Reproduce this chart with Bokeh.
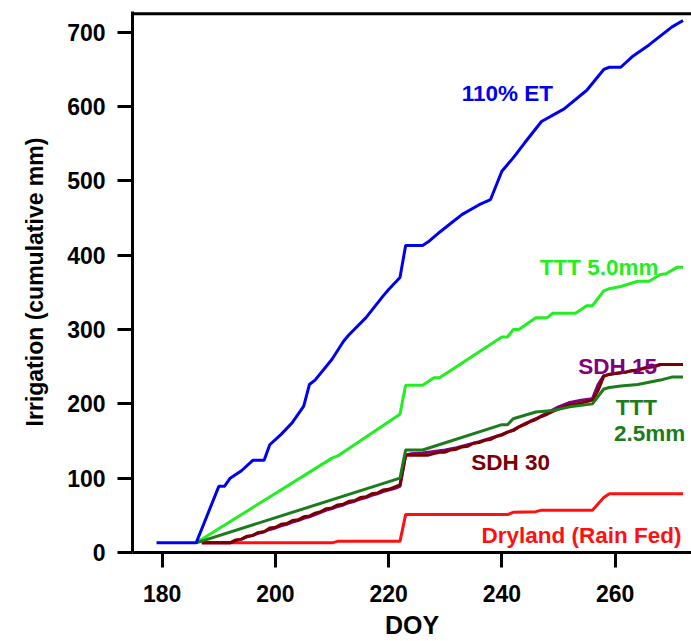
from bokeh.plotting import figure
from bokeh.models import Range1d, FixedTicker, Span, Label
from bokeh.embed import file_html
from bokeh.resources import INLINE

# ---- data (DOY, cumulative irrigation mm) ----
et_doy = [179, 186, 190, 191, 192, 194, 196, 198, 199, 201, 203, 205, 206, 207, 210, 212, 213, 216,
          219, 220, 222, 223, 226, 227, 229, 231, 233, 236, 238, 240, 242, 244, 247, 251, 255, 258,
          259, 261, 263, 266, 270, 272]
et_mm = [13, 13, 89, 89, 100, 110, 124, 124, 145, 159, 175, 197, 226, 232, 260, 284, 293, 316,
         345, 354, 370, 413, 413, 418, 431, 443, 455, 468, 475, 513, 531, 551, 580, 597, 622, 650,
         653, 653, 667, 683, 707, 716]

t5_doy = [186, 210, 211, 222, 223, 226, 228, 229, 240, 241, 242, 243, 246, 248, 249, 253, 255, 256,
          258, 259, 261, 264, 266, 268, 269, 271, 272]
t5_mm = [13, 127, 130, 186, 225, 225, 235, 235, 290, 290, 300, 300, 316, 316, 322, 322, 332, 332,
         352, 355, 358, 365, 365, 374, 375, 384, 384]

t25_doy = [186, 222, 223, 226, 240, 241, 242, 246, 249, 252, 256, 258, 259, 261, 264, 266, 268, 270, 272]
t25_mm = [13, 100, 138, 138, 172, 172, 180, 189, 191, 196, 200, 220, 222, 224, 226, 229, 232, 236, 236]

sdh15_doy = [187, 192, 193, 194, 195, 196, 197, 198, 199, 200, 201, 202, 203, 204, 205, 206, 207, 208,
             209, 210, 211, 212, 213, 214, 215, 216, 217, 218, 219, 220, 221, 222, 223, 224, 226, 228,
             230, 232, 234, 236, 238, 240, 242, 244, 246, 248, 250, 252, 254, 256, 257, 258, 260, 262,
             264, 266, 268, 272]
sdh15_mm = [13, 13, 16, 18, 21, 23, 26, 28, 31, 33, 36, 38, 41, 43, 46, 48, 51, 54,
            57, 59, 62, 64, 67, 69, 72, 74, 77, 79, 82, 84, 86, 89, 131, 133, 134, 136,
            138, 141, 145, 149, 154, 159, 165, 173, 180, 188, 196, 202, 205, 207, 226, 238, 241, 243,
            246, 249, 253, 253]

sdh30_doy = [187, 192, 193, 194, 195, 196, 197, 198, 199, 200, 201, 202, 203, 204, 205, 206, 207, 208,
             209, 210, 211, 212, 213, 214, 215, 216, 217, 218, 219, 220, 221, 222, 223, 227, 228, 229,
             230, 231, 232, 233, 234, 235, 236, 237, 238, 239, 240, 241, 242, 243, 244, 245, 246, 247,
             248, 249, 250, 251, 252, 253, 254, 255, 256, 257, 258, 259, 261, 262, 263, 264, 265, 266,
             267, 268, 272]
sdh30_mm = [13, 13, 17, 18, 22, 23, 27, 28, 33, 34, 38, 39, 43, 44, 48, 49, 53, 55,
            59, 60, 64, 65, 69, 70, 74, 75, 79, 80, 84, 85, 88, 91, 131, 131, 133, 135,
            135, 138, 139, 142, 143, 147, 148, 151, 152, 156, 158, 162, 164, 169, 172, 176, 179, 183,
            186, 190, 193, 196, 199, 200, 201, 203, 205, 218, 237, 240, 242, 243, 245, 245, 248, 250,
            250, 253, 253]

dry_doy = [187, 210, 211, 222, 223, 241, 242, 246, 247, 256, 258, 259, 272]
dry_mm = [13, 13, 15, 15, 51, 51, 54, 55, 57, 57, 74, 79, 79]

x_ticks = [180, 200, 220, 240, 260]
y_ticks = [0, 100, 200, 300, 400, 500, 600, 700]

C_ET = "#0000F0"
C_T5 = "#22EE22"
C_T25 = "#1C7C1C"
C_S15 = "#800080"
C_S30 = "#7A0000"
C_DRY = "#FF1010"

FONT = "Liberation Sans"

p = figure(width=691, height=641, x_range=Range1d(174.75, 273.5), y_range=Range1d(0, 728),
           output_backend="svg", toolbar_location=None,
           min_border_left=132, min_border_right=0, min_border_top=11, min_border_bottom=88)
p.outline_line_color = None
p.grid.visible = False
p.background_fill_color = "white"
p.border_fill_color = "white"

for ax in (p.xaxis[0], p.yaxis[0]):
    ax.axis_line_width = 3
    ax.axis_line_color = "black"
    ax.major_tick_line_width = 3
    ax.major_tick_line_color = "black"
    ax.major_tick_out = 15
    ax.major_tick_in = 0
    ax.minor_tick_out = 0
    ax.minor_tick_in = 0
    ax.major_label_text_font = FONT
    ax.major_label_text_font_size = "23px"
    ax.major_label_text_font_style = "bold"
    ax.major_label_text_color = "black"
    ax.axis_label_text_font = FONT
    ax.axis_label_text_font_style = "bold"
    ax.axis_label_text_color = "black"

p.xaxis.ticker = FixedTicker(ticks=x_ticks)
p.yaxis.ticker = FixedTicker(ticks=y_ticks)
p.xaxis.axis_label = "DOY"
p.xaxis.axis_label_text_font_size = "25px"
p.xaxis.major_label_standoff = 17
p.xaxis.axis_label_standoff = 6
p.yaxis.axis_label = "Irrigation (cumulative mm)"
p.yaxis.axis_label_text_font_size = "23px"
p.yaxis.major_label_standoff = 12
p.yaxis.axis_label_standoff = 16

p.add_layout(Span(location=725, dimension="width", line_color="black", line_width=3))

p.line(dry_doy, dry_mm, line_color=C_DRY, line_width=3)
p.line(t5_doy, t5_mm, line_color=C_T5, line_width=3)
p.line(sdh15_doy, sdh15_mm, line_color=C_S15, line_width=3)
p.line(sdh30_doy, sdh30_mm, line_color=C_S30, line_width=3)
p.line(t25_doy, t25_mm, line_color=C_T25, line_width=3)
p.line(et_doy, et_mm, line_color=C_ET, line_width=3)

labels = [
    ("110% ET", 232.9, 617.9, C_ET),
    ("TTT 5.0mm", 246.7, 383.6, C_T5),
    ("SDH 15", 253.5, 250.6, C_S15),
    ("TTT", 260.1, 194.8, C_T25),
    ("2.5mm", 259.8, 159.8, C_T25),
    ("SDH 30", 234.6, 121.7, C_S30),
    ("Dryland (Rain Fed)", 236.4, 22.3, C_DRY),
]
for txt, lx, ly, col in labels:
    p.add_layout(Label(x=lx, y=ly, text=txt, text_font=FONT, text_font_style="bold",
                       text_font_size="22.5px", text_color=col, text_baseline="alphabetic",
                       text_align="left"))

open("out.html", "w").write(file_html(p, INLINE))
